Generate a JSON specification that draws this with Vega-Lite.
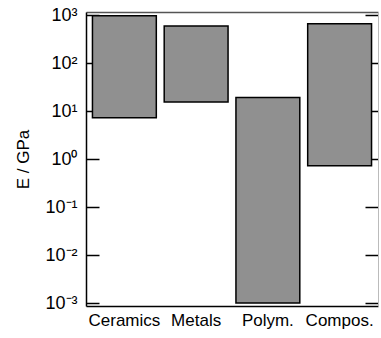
{
  "$schema": "https://vega.github.io/schema/vega-lite/v6.json",
  "width": 292,
  "height": 294,
  "autosize": {"type": "none"},
  "padding": {"left": 86, "top": 12, "right": 3, "bottom": 32},
  "background": "white",
  "config": {
    "view": {"stroke": null},
    "font": "Liberation Sans",
    "axis": {"labelFont": "Liberation Sans", "titleFont": "Liberation Sans", "grid": false}
  },
  "data": {
    "values": [
      {"cat": "Ceramics", "lo": 7.2, "hi": 970},
      {"cat": "Metals", "lo": 15.4, "hi": 590},
      {"cat": "Polym.", "lo": 0.001, "hi": 19},
      {"cat": "Compos.", "lo": 0.72, "hi": 660}
    ]
  },
  "resolve": {"axis": {"x": "independent", "y": "independent"}},
  "layer": [
    {
      "mark": {"type": "bar", "fill": "#909090", "stroke": "#000000", "strokeWidth": 1.5},
      "encoding": {
        "x": {
          "field": "cat", "type": "nominal", "sort": null,
          "scale": {"paddingInner": 0.11, "paddingOuter": 0.09},
          "axis": {"orient": "bottom", "title": null, "ticks": false, "labelAngle": 0,
                   "labelFontSize": 17, "labelColor": "#000", "labelPadding": 6,
                   "domainColor": "#000", "domainWidth": 1.5}
        },
        "y": {
          "field": "hi", "type": "quantitative",
          "scale": {"type": "log", "domain": [0.000866, 1155], "nice": false},
          "axis": {"orient": "left", "title": "E / GPa", "titleFontSize": 17, "titleFontWeight": "normal",
                   "titleColor": "#000", "titlePadding": 12,
                   "values": [0.001, 0.01, 0.1, 1, 10, 100, 1000],
                   "labelExpr": "datum.value == 1000 ? '10³' : datum.value == 100 ? '10²' : datum.value == 10 ? '10¹' : datum.value == 1 ? '10⁰' : datum.value == 0.1 ? '10⁻¹' : datum.value == 0.01 ? '10⁻²' : '10⁻³'",
                   "labelFontSize": 18, "labelColor": "#000", "labelPadding": 22,
                   "tickSize": -13, "tickColor": "#000", "tickWidth": 1.5,
                   "domainColor": "#000", "domainWidth": 1.5}
        },
        "y2": {"field": "lo"}
      }
    },
    {
      "mark": {"type": "bar", "opacity": 0},
      "encoding": {
        "x": {
          "field": "cat", "type": "nominal", "sort": null,
          "axis": {"orient": "top", "title": null, "ticks": false, "labels": false,
                   "domainColor": "#555", "domainWidth": 1.5}
        },
        "y": {
          "field": "hi", "type": "quantitative",
          "axis": {"orient": "right", "title": null, "labels": false,
                   "values": [0.001, 0.01, 0.1, 1, 10, 100, 1000],
                   "tickSize": -13, "tickColor": "#000", "tickWidth": 1.5,
                   "domainColor": "#bbb", "domainWidth": 1}
        },
        "y2": {"field": "lo"}
      }
    }
  ]
}
